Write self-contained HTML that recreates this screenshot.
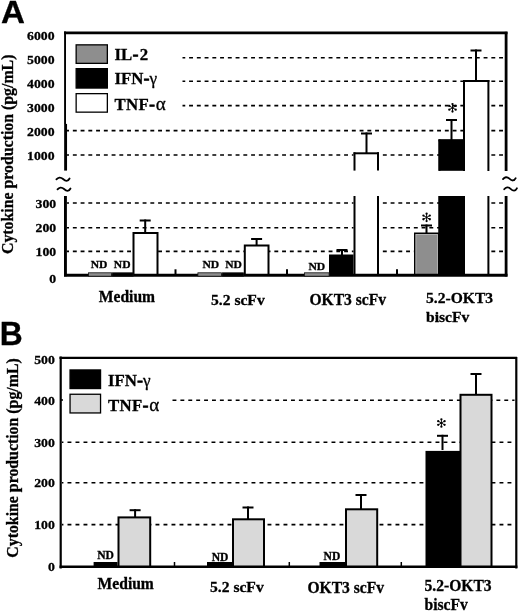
<!DOCTYPE html>
<html><head><meta charset="utf-8"><style>
html,body{margin:0;padding:0;background:#fff;}
svg{display:block;will-change:transform;}
</style></head><body>
<svg width="520" height="612" viewBox="0 0 520 612">
<style>text{stroke:#000;stroke-width:0.3;paint-order:stroke;}</style>
<rect width="520" height="612" fill="#fff"/>
<text transform="translate(0.9,23.3) scale(1.05,1.0)" font-family="'Liberation Sans', sans-serif" font-weight="bold" font-size="31.5" text-anchor="start" >A</text>
<text transform="translate(13,154.3) rotate(-90) scale(1,1.08)" font-family="'Liberation Serif', serif" font-weight="bold" font-size="15.85" text-anchor="middle">Cytokine production (pg/mL)</text>
<text transform="translate(54.6,39.6) scale(1.02,0.92)" font-family="'Liberation Serif', serif" font-weight="bold" font-size="13.5" text-anchor="end" >6000</text>
<text transform="translate(54.6,63.7) scale(1.02,0.92)" font-family="'Liberation Serif', serif" font-weight="bold" font-size="13.5" text-anchor="end" >5000</text>
<text transform="translate(54.6,87.7) scale(1.02,0.92)" font-family="'Liberation Serif', serif" font-weight="bold" font-size="13.5" text-anchor="end" >4000</text>
<text transform="translate(54.6,111.8) scale(1.02,0.92)" font-family="'Liberation Serif', serif" font-weight="bold" font-size="13.5" text-anchor="end" >3000</text>
<text transform="translate(54.6,135.5) scale(1.02,0.92)" font-family="'Liberation Serif', serif" font-weight="bold" font-size="13.5" text-anchor="end" >2000</text>
<text transform="translate(54.6,159.7) scale(1.02,0.92)" font-family="'Liberation Serif', serif" font-weight="bold" font-size="13.5" text-anchor="end" >1000</text>
<text transform="translate(56.2,208.0) scale(1.02,0.92)" font-family="'Liberation Serif', serif" font-weight="bold" font-size="13.5" text-anchor="end" >300</text>
<text transform="translate(56.2,232.1) scale(1.02,0.92)" font-family="'Liberation Serif', serif" font-weight="bold" font-size="13.5" text-anchor="end" >200</text>
<text transform="translate(56.2,255.89999999999998) scale(1.02,0.92)" font-family="'Liberation Serif', serif" font-weight="bold" font-size="13.5" text-anchor="end" >100</text>
<text transform="translate(56.2,282.9) scale(1.02,0.92)" font-family="'Liberation Serif', serif" font-weight="bold" font-size="13.5" text-anchor="end" >0</text>
<line x1="182.5" y1="57.8" x2="505" y2="57.8" stroke="#000" stroke-width="1.6" stroke-dasharray="3.9 3.850" stroke-dashoffset="1.150"/>
<line x1="182.5" y1="81.3" x2="505" y2="81.3" stroke="#000" stroke-width="1.6" stroke-dasharray="3.9 3.850" stroke-dashoffset="1.150"/>
<line x1="182.5" y1="105.6" x2="505" y2="105.6" stroke="#000" stroke-width="1.6" stroke-dasharray="3.9 3.850" stroke-dashoffset="1.150"/>
<line x1="67" y1="130.6" x2="505" y2="130.6" stroke="#000" stroke-width="1.6" stroke-dasharray="3.9 3.850" stroke-dashoffset="1.900"/>
<line x1="67" y1="155.0" x2="505" y2="155.0" stroke="#000" stroke-width="1.6" stroke-dasharray="3.9 3.850" stroke-dashoffset="1.900"/>
<line x1="67" y1="203.0" x2="505" y2="203.0" stroke="#000" stroke-width="1.6" stroke-dasharray="3.9 3.850" stroke-dashoffset="1.900"/>
<line x1="67" y1="227.7" x2="505" y2="227.7" stroke="#000" stroke-width="1.6" stroke-dasharray="3.9 3.850" stroke-dashoffset="1.900"/>
<line x1="67" y1="251.4" x2="505" y2="251.4" stroke="#000" stroke-width="1.6" stroke-dasharray="3.9 3.850" stroke-dashoffset="1.900"/>
<rect x="133.5" y="233.0" width="24.0" height="42.0" fill="#fff" stroke="#000" stroke-width="2"/>
<line x1="145.2" y1="219.5" x2="145.2" y2="233" stroke="#000" stroke-width="2" />
<line x1="139.7" y1="220.5" x2="150.7" y2="220.5" stroke="#000" stroke-width="2" />
<rect x="244.8" y="245.5" width="23.69999999999999" height="29.5" fill="#fff" stroke="#000" stroke-width="2"/>
<line x1="256.6" y1="238" x2="256.6" y2="245" stroke="#000" stroke-width="2" />
<line x1="251.10000000000002" y1="239.0" x2="262.1" y2="239.0" stroke="#000" stroke-width="2" />
<rect x="330.0" y="255.5" width="23.5" height="19.5" fill="#000" stroke="#000" stroke-width="2"/>
<line x1="342" y1="249" x2="342" y2="255" stroke="#000" stroke-width="2" />
<line x1="336.5" y1="250.0" x2="347.5" y2="250.0" stroke="#000" stroke-width="2" />
<rect x="353.5" y="196" width="25.5" height="80" fill="#fff"/>
<line x1="354.5" y1="196" x2="354.5" y2="276" stroke="#000" stroke-width="2" />
<line x1="378.0" y1="196" x2="378.0" y2="276" stroke="#000" stroke-width="2" />
<rect x="353.5" y="152.3" width="25.5" height="18.299999999999983" fill="#fff"/>
<line x1="354.5" y1="152.3" x2="354.5" y2="170.6" stroke="#000" stroke-width="2" />
<line x1="378.0" y1="152.3" x2="378.0" y2="170.6" stroke="#000" stroke-width="2" />
<line x1="353.5" y1="153.3" x2="379" y2="153.3" stroke="#000" stroke-width="2" />
<line x1="366.5" y1="132.5" x2="366.5" y2="153" stroke="#000" stroke-width="2" />
<line x1="361.0" y1="133.5" x2="372.0" y2="133.5" stroke="#000" stroke-width="2" />
<rect x="414.8" y="233.3" width="23.9" height="41.9" fill="#8e8e8e" stroke="#000" stroke-width="1.6"/>
<rect x="415.9" y="234.4" width="21.7" height="41" fill="none" stroke="#c4c4c4" stroke-width="0.7"/>
<line x1="426.5" y1="224.5" x2="426.5" y2="233" stroke="#000" stroke-width="2" />
<line x1="421.0" y1="225.5" x2="432.0" y2="225.5" stroke="#000" stroke-width="2" />
<rect x="438.5" y="196" width="26.5" height="80" fill="#000"/>
<line x1="439.5" y1="196" x2="439.5" y2="276" stroke="#000" stroke-width="2" />
<line x1="464.0" y1="196" x2="464.0" y2="276" stroke="#000" stroke-width="2" />
<rect x="438.5" y="139.4" width="26.5" height="31.400000000000006" fill="#000"/>
<line x1="439.5" y1="139.4" x2="439.5" y2="170.8" stroke="#000" stroke-width="2" />
<line x1="464.0" y1="139.4" x2="464.0" y2="170.8" stroke="#000" stroke-width="2" />
<line x1="438.5" y1="140.4" x2="465" y2="140.4" stroke="#000" stroke-width="2" />
<line x1="451.5" y1="119" x2="451.5" y2="140" stroke="#000" stroke-width="2" />
<line x1="446.0" y1="120.0" x2="457.0" y2="120.0" stroke="#000" stroke-width="2" />
<rect x="463" y="196" width="26.399999999999977" height="80" fill="#fff"/>
<line x1="464.0" y1="196" x2="464.0" y2="276" stroke="#000" stroke-width="2" />
<line x1="488.4" y1="196" x2="488.4" y2="276" stroke="#000" stroke-width="2" />
<rect x="463" y="80" width="26.399999999999977" height="91" fill="#fff"/>
<line x1="464.0" y1="80" x2="464.0" y2="171" stroke="#000" stroke-width="2" />
<line x1="488.4" y1="80" x2="488.4" y2="171" stroke="#000" stroke-width="2" />
<line x1="463" y1="81.0" x2="489.4" y2="81.0" stroke="#000" stroke-width="2" />
<line x1="476" y1="49.5" x2="476" y2="81" stroke="#000" stroke-width="2" />
<line x1="470.5" y1="50.5" x2="481.5" y2="50.5" stroke="#000" stroke-width="2" />
<line x1="426.6" y1="217.4" x2="426.60" y2="214.39" stroke="#000" stroke-width="0.95" stroke-linecap="round"/>
<circle cx="426.60" cy="213.70" r="1.15" fill="#000"/>
<line x1="426.6" y1="217.4" x2="424.00" y2="215.90" stroke="#000" stroke-width="0.95" stroke-linecap="round"/>
<circle cx="423.40" cy="215.55" r="1.15" fill="#000"/>
<line x1="426.6" y1="217.4" x2="424.00" y2="218.90" stroke="#000" stroke-width="0.95" stroke-linecap="round"/>
<circle cx="423.40" cy="219.25" r="1.15" fill="#000"/>
<line x1="426.6" y1="217.4" x2="426.60" y2="220.41" stroke="#000" stroke-width="0.95" stroke-linecap="round"/>
<circle cx="426.60" cy="221.10" r="1.15" fill="#000"/>
<line x1="426.6" y1="217.4" x2="429.20" y2="218.90" stroke="#000" stroke-width="0.95" stroke-linecap="round"/>
<circle cx="429.80" cy="219.25" r="1.15" fill="#000"/>
<line x1="426.6" y1="217.4" x2="429.20" y2="215.90" stroke="#000" stroke-width="0.95" stroke-linecap="round"/>
<circle cx="429.80" cy="215.55" r="1.15" fill="#000"/>
<line x1="452.5" y1="107.8" x2="452.50" y2="104.79" stroke="#000" stroke-width="0.95" stroke-linecap="round"/>
<circle cx="452.50" cy="104.10" r="1.15" fill="#000"/>
<line x1="452.5" y1="107.8" x2="449.90" y2="106.30" stroke="#000" stroke-width="0.95" stroke-linecap="round"/>
<circle cx="449.30" cy="105.95" r="1.15" fill="#000"/>
<line x1="452.5" y1="107.8" x2="449.90" y2="109.30" stroke="#000" stroke-width="0.95" stroke-linecap="round"/>
<circle cx="449.30" cy="109.65" r="1.15" fill="#000"/>
<line x1="452.5" y1="107.8" x2="452.50" y2="110.81" stroke="#000" stroke-width="0.95" stroke-linecap="round"/>
<circle cx="452.50" cy="111.50" r="1.15" fill="#000"/>
<line x1="452.5" y1="107.8" x2="455.10" y2="109.30" stroke="#000" stroke-width="0.95" stroke-linecap="round"/>
<circle cx="455.70" cy="109.65" r="1.15" fill="#000"/>
<line x1="452.5" y1="107.8" x2="455.10" y2="106.30" stroke="#000" stroke-width="0.95" stroke-linecap="round"/>
<circle cx="455.70" cy="105.95" r="1.15" fill="#000"/>
<text transform="translate(99.1,267.8) scale(1.0,0.93)" font-family="'Liberation Serif', serif" font-weight="bold" font-size="11.6" text-anchor="middle" >ND</text>
<text transform="translate(122.15,267.8) scale(1.0,0.93)" font-family="'Liberation Serif', serif" font-weight="bold" font-size="11.6" text-anchor="middle" >ND</text>
<text transform="translate(210.75,268.3) scale(1.0,0.93)" font-family="'Liberation Serif', serif" font-weight="bold" font-size="11.6" text-anchor="middle" >ND</text>
<text transform="translate(233.6,268.3) scale(1.0,0.93)" font-family="'Liberation Serif', serif" font-weight="bold" font-size="11.6" text-anchor="middle" >ND</text>
<text transform="translate(316.75,269.8) scale(1.0,0.93)" font-family="'Liberation Serif', serif" font-weight="bold" font-size="11.6" text-anchor="middle" >ND</text>
<line x1="64" y1="32.8" x2="507.5" y2="32.8" stroke="#000" stroke-width="2.7" />
<line x1="65.05" y1="31.6" x2="65.05" y2="124" stroke="#000" stroke-width="1.9" />
<line x1="65.6" y1="123.9" x2="65.6" y2="170.6" stroke="#000" stroke-width="2.9" />
<line x1="506.1" y1="31.8" x2="506.1" y2="171" stroke="#000" stroke-width="2.8" />
<line x1="65.45" y1="196" x2="65.45" y2="276.3" stroke="#000" stroke-width="2.9" />
<line x1="506.1" y1="196" x2="506.1" y2="276.5" stroke="#000" stroke-width="2.8" />
<line x1="64" y1="275.3" x2="507.5" y2="275.3" stroke="#000" stroke-width="3.0" />
<rect x="88.5" y="272.8" width="23.100000000000005" height="3.4" fill="#8e8e8e" stroke="#111" stroke-width="0.8"/>
<rect x="112.4" y="272.8" width="20.7" height="3.4" fill="#000" stroke="#111" stroke-width="0.8"/>
<rect x="197.9" y="272.8" width="23.7" height="3.4" fill="#8e8e8e" stroke="#111" stroke-width="0.8"/>
<rect x="222.4" y="272.8" width="21.2" height="3.4" fill="#000" stroke="#111" stroke-width="0.8"/>
<rect x="304.4" y="272.8" width="24.7" height="3.4" fill="#8e8e8e" stroke="#111" stroke-width="0.8"/>
<line x1="175.5" y1="269.3" x2="175.5" y2="274" stroke="#000" stroke-width="2" />
<line x1="287" y1="269.3" x2="287" y2="274" stroke="#000" stroke-width="2" />
<line x1="397" y1="269.3" x2="397" y2="274" stroke="#000" stroke-width="2" />
<path d="M56.4,179.4 c1.69,-2.1 4.17,-2.7 6.65,-0.4 s4.96,2.6 6.55,-0.5" fill="none" stroke="#000" stroke-width="1.8" stroke-linecap="round"/>
<path d="M57.5,189.4 c1.66,-2.1 4.11,-2.7 6.55,-0.4 s4.89,2.6 6.45,-0.5" fill="none" stroke="#000" stroke-width="1.8" stroke-linecap="round"/>
<path d="M503.0,179.1 c1.62,-2.1 4.01,-2.7 6.40,-0.4 s4.77,2.6 6.30,-0.5" fill="none" stroke="#000" stroke-width="1.8" stroke-linecap="round"/>
<path d="M504.2,189.2 c1.62,-2.1 4.01,-2.7 6.40,-0.4 s4.77,2.6 6.30,-0.5" fill="none" stroke="#000" stroke-width="1.8" stroke-linecap="round"/>
<rect x="76.15" y="44.85" width="31.2" height="18.499999999999996" fill="#8e8e8e" stroke="#000" stroke-width="1.3"/>
<rect x="76.15" y="68.65" width="31.2" height="19.400000000000002" fill="#000" stroke="#000" stroke-width="1.3"/>
<rect x="76.15" y="93.65" width="31.2" height="18.499999999999996" fill="#fff" stroke="#000" stroke-width="1.3"/>
<text transform="translate(114.5,59.6) scale(1.0,1.0)" font-family="'Liberation Serif', serif" font-weight="bold" font-size="16.8" text-anchor="start" >IL<tspan dx="0.6" style="stroke-width:0.9">-</tspan><tspan dx="1.4">2</tspan></text>
<text transform="translate(114.5,84.3) scale(1.0,1.0)" font-family="'Liberation Serif', serif" font-weight="bold" font-size="16.8" text-anchor="start" >IFN<tspan dx="0.4" style="stroke-width:0.9">-</tspan><tspan dx="0.2" font-weight="normal" font-size="17.2">γ</tspan></text>
<text transform="translate(114.5,109.6) scale(1.0,1.0)" font-family="'Liberation Serif', serif" font-weight="bold" font-size="16.8" text-anchor="start" >T<tspan dx="0.3">N</tspan><tspan dx="0.3">F</tspan><tspan dx="0.6" style="stroke-width:0.9">-</tspan><tspan dx="0.9" font-weight="normal" font-size="19">α</tspan></text>
<text transform="translate(98.8,301.5) scale(1.0,1.01)" font-family="'Liberation Serif', serif" font-weight="bold" font-size="15.6" text-anchor="start" >Medium</text>
<text transform="translate(211,305.0) scale(1.0,0.94)" font-family="'Liberation Serif', serif" font-weight="bold" font-size="15.6" text-anchor="start" >5.2 scFv</text>
<text transform="translate(309.5,305.3) scale(1.0,1.01)" font-family="'Liberation Serif', serif" font-weight="bold" font-size="15.6" text-anchor="start" >OKT3 scFv</text>
<text transform="translate(426,303.3) scale(1.0,0.97)" font-family="'Liberation Serif', serif" font-weight="bold" font-size="15.6" text-anchor="start" >5.2-OKT3</text>
<text transform="translate(426,322.3) scale(1.0,0.95)" font-family="'Liberation Serif', serif" font-weight="bold" font-size="15.6" text-anchor="start" >biscFv</text>
<text transform="translate(-0.3,345.0) scale(1.0,1.02)" font-family="'Liberation Sans', sans-serif" font-weight="bold" font-size="31.8" text-anchor="start" >B</text>
<text transform="translate(18.3,458) rotate(-90) scale(1,1.08)" font-family="'Liberation Serif', serif" font-weight="bold" font-size="15.85" text-anchor="middle">Cytokine production (pg/mL)</text>
<text transform="translate(54.8,364.3) scale(1.02,0.92)" font-family="'Liberation Serif', serif" font-weight="bold" font-size="13.5" text-anchor="end" >500</text>
<text transform="translate(54.8,404.9) scale(1.02,0.92)" font-family="'Liberation Serif', serif" font-weight="bold" font-size="13.5" text-anchor="end" >400</text>
<text transform="translate(54.8,446.5) scale(1.02,0.92)" font-family="'Liberation Serif', serif" font-weight="bold" font-size="13.5" text-anchor="end" >300</text>
<text transform="translate(54.8,486.7) scale(1.02,0.92)" font-family="'Liberation Serif', serif" font-weight="bold" font-size="13.5" text-anchor="end" >200</text>
<text transform="translate(54.8,529.2) scale(1.02,0.92)" font-family="'Liberation Serif', serif" font-weight="bold" font-size="13.5" text-anchor="end" >100</text>
<text transform="translate(54.8,570.6) scale(1.02,0.92)" font-family="'Liberation Serif', serif" font-weight="bold" font-size="13.5" text-anchor="end" >0</text>
<line x1="172.5" y1="400.3" x2="514.5" y2="400.3" stroke="#000" stroke-width="1.6" stroke-dasharray="3.9 4.000" stroke-dashoffset="0.000"/>
<line x1="62" y1="442.2" x2="514.5" y2="442.2" stroke="#000" stroke-width="1.6" stroke-dasharray="3.9 4.100" stroke-dashoffset="2.500"/>
<line x1="62" y1="482.8" x2="514.5" y2="482.8" stroke="#000" stroke-width="1.6" stroke-dasharray="3.9 4.100" stroke-dashoffset="2.500"/>
<line x1="62" y1="524.6" x2="514.5" y2="524.6" stroke="#000" stroke-width="1.6" stroke-dasharray="3.9 4.100" stroke-dashoffset="2.500"/>
<rect x="93.6" y="562" width="23.9" height="5" fill="#000"/>
<rect x="118.5" y="517.4" width="31.69999999999999" height="49.60000000000002" fill="#d9d9d9" stroke="#000" stroke-width="2"/>
<line x1="135.1" y1="509.2" x2="135.1" y2="517" stroke="#000" stroke-width="2" />
<line x1="129.6" y1="510.2" x2="140.6" y2="510.2" stroke="#000" stroke-width="2" />
<rect x="207" y="562" width="25" height="5" fill="#000"/>
<rect x="233.0" y="519.3" width="31" height="47.700000000000045" fill="#d9d9d9" stroke="#000" stroke-width="2"/>
<line x1="248" y1="506.5" x2="248" y2="519" stroke="#000" stroke-width="2" />
<line x1="242.5" y1="507.5" x2="253.5" y2="507.5" stroke="#000" stroke-width="2" />
<rect x="319.5" y="562" width="25.5" height="5" fill="#000"/>
<rect x="346.0" y="509.3" width="31.19999999999999" height="57.69999999999999" fill="#d9d9d9" stroke="#000" stroke-width="2"/>
<line x1="361" y1="494.0" x2="361" y2="509" stroke="#000" stroke-width="2" />
<line x1="355.5" y1="495.0" x2="366.5" y2="495.0" stroke="#000" stroke-width="2" />
<rect x="426.5" y="451.9" width="33.0" height="115.10000000000002" fill="#000" stroke="#000" stroke-width="2"/>
<line x1="442.5" y1="434.8" x2="442.5" y2="450" stroke="#000" stroke-width="2" />
<line x1="437.0" y1="435.8" x2="448.0" y2="435.8" stroke="#000" stroke-width="2" />
<rect x="460.5" y="394.8" width="31.0" height="172.2" fill="#d9d9d9" stroke="#000" stroke-width="2"/>
<line x1="476" y1="373" x2="476" y2="394.5" stroke="#000" stroke-width="2" />
<line x1="470.5" y1="374.0" x2="481.5" y2="374.0" stroke="#000" stroke-width="2" />
<line x1="441.4" y1="423.0" x2="441.40" y2="419.99" stroke="#000" stroke-width="0.95" stroke-linecap="round"/>
<circle cx="441.40" cy="419.30" r="1.15" fill="#000"/>
<line x1="441.4" y1="423.0" x2="438.80" y2="421.50" stroke="#000" stroke-width="0.95" stroke-linecap="round"/>
<circle cx="438.20" cy="421.15" r="1.15" fill="#000"/>
<line x1="441.4" y1="423.0" x2="438.80" y2="424.50" stroke="#000" stroke-width="0.95" stroke-linecap="round"/>
<circle cx="438.20" cy="424.85" r="1.15" fill="#000"/>
<line x1="441.4" y1="423.0" x2="441.40" y2="426.01" stroke="#000" stroke-width="0.95" stroke-linecap="round"/>
<circle cx="441.40" cy="426.70" r="1.15" fill="#000"/>
<line x1="441.4" y1="423.0" x2="444.00" y2="424.50" stroke="#000" stroke-width="0.95" stroke-linecap="round"/>
<circle cx="444.60" cy="424.85" r="1.15" fill="#000"/>
<line x1="441.4" y1="423.0" x2="444.00" y2="421.50" stroke="#000" stroke-width="0.95" stroke-linecap="round"/>
<circle cx="444.60" cy="421.15" r="1.15" fill="#000"/>
<text transform="translate(105.6,558.8) scale(1.0,1.02)" font-family="'Liberation Serif', serif" font-weight="bold" font-size="11.6" text-anchor="middle" >ND</text>
<text transform="translate(220.0,560.5) scale(1.0,1.02)" font-family="'Liberation Serif', serif" font-weight="bold" font-size="11.6" text-anchor="middle" >ND</text>
<text transform="translate(331.9,560.2) scale(1.0,1.02)" font-family="'Liberation Serif', serif" font-weight="bold" font-size="11.6" text-anchor="middle" >ND</text>
<line x1="59.5" y1="357.8" x2="517" y2="357.8" stroke="#000" stroke-width="2.3" />
<line x1="60.7" y1="356.5" x2="60.7" y2="568.5" stroke="#000" stroke-width="2.2" />
<line x1="516.3" y1="357" x2="516.3" y2="568.5" stroke="#000" stroke-width="2.2" />
<line x1="59.5" y1="566.7" x2="517.4" y2="566.7" stroke="#000" stroke-width="2.5" />
<line x1="174.5" y1="562" x2="174.5" y2="566" stroke="#000" stroke-width="1.5" />
<line x1="289.3" y1="562" x2="289.3" y2="566" stroke="#000" stroke-width="1.5" />
<line x1="401.3" y1="562" x2="401.3" y2="566" stroke="#000" stroke-width="1.5" />
<line x1="61" y1="400" x2="63" y2="400" stroke="#000" stroke-width="1.5" />
<rect x="70.05000000000001" y="369.95" width="30.499999999999996" height="18.599999999999977" fill="#000" stroke="#000" stroke-width="1.3"/>
<rect x="70.05000000000001" y="394.25" width="30.499999999999996" height="18.7" fill="#d9d9d9" stroke="#000" stroke-width="1.3"/>
<text transform="translate(108,386.0) scale(1.0,1.0)" font-family="'Liberation Serif', serif" font-weight="bold" font-size="16.8" text-anchor="start" >IFN<tspan dx="0.4" style="stroke-width:0.9">-</tspan><tspan dx="0.2" font-weight="normal" font-size="17.2">γ</tspan></text>
<text transform="translate(108,410.8) scale(1.0,1.0)" font-family="'Liberation Serif', serif" font-weight="bold" font-size="16.8" text-anchor="start" >T<tspan dx="0.3">N</tspan><tspan dx="0.3">F</tspan><tspan dx="0.6" style="stroke-width:0.9">-</tspan><tspan dx="0.9" font-weight="normal" font-size="19">α</tspan></text>
<text transform="translate(97.6,588.7) scale(1.0,1.01)" font-family="'Liberation Serif', serif" font-weight="bold" font-size="15.6" text-anchor="start" >Medium</text>
<text transform="translate(210,592.3) scale(1.0,0.94)" font-family="'Liberation Serif', serif" font-weight="bold" font-size="15.6" text-anchor="start" >5.2 scFv</text>
<text transform="translate(307.5,592.5) scale(1.0,1.01)" font-family="'Liberation Serif', serif" font-weight="bold" font-size="15.6" text-anchor="start" >OKT3 scFv</text>
<text transform="translate(424.5,591.3) scale(1.0,1.08)" font-family="'Liberation Serif', serif" font-weight="bold" font-size="15.6" text-anchor="start" >5.2-OKT3</text>
<text transform="translate(424.5,609.5) scale(1.0,1.05)" font-family="'Liberation Serif', serif" font-weight="bold" font-size="15.6" text-anchor="start" >biscFv</text>
</svg>
</body></html>
